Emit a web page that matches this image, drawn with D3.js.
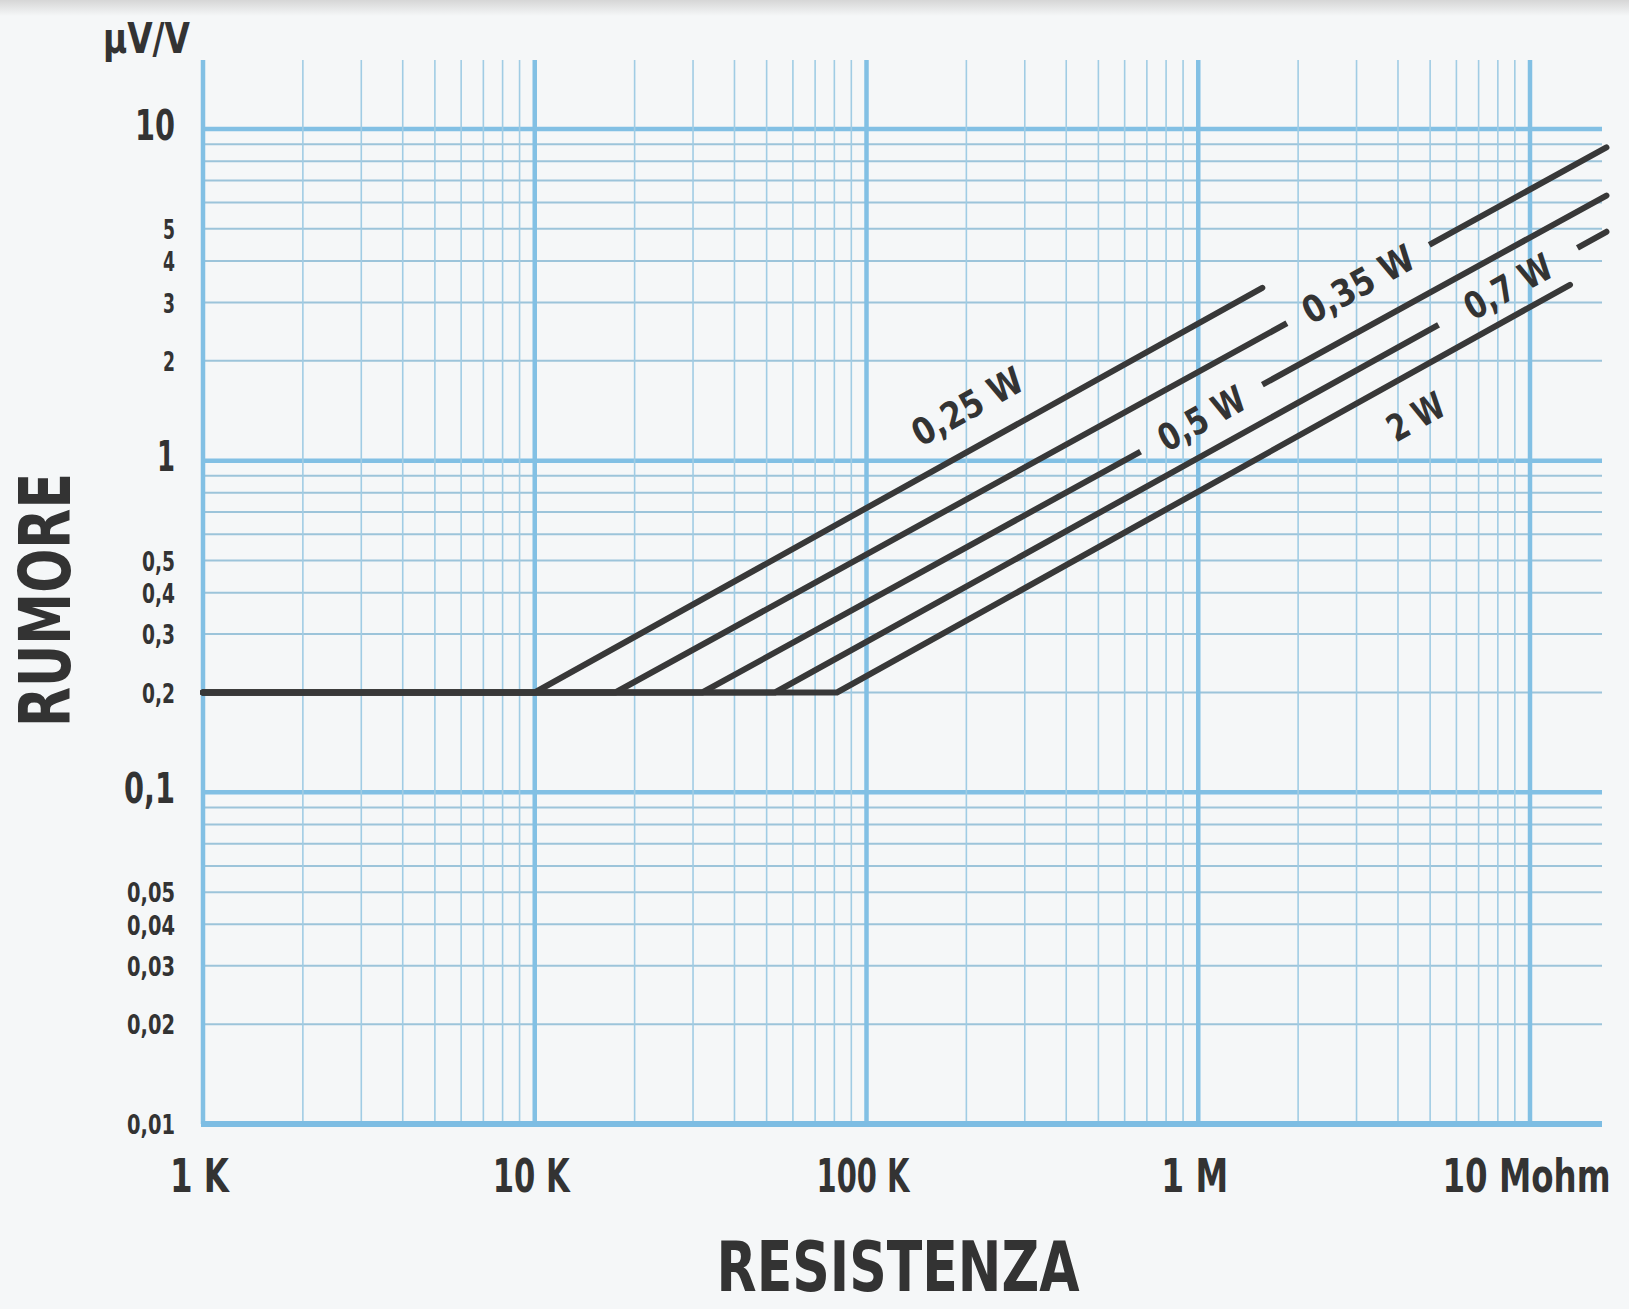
<!DOCTYPE html>
<html>
<head>
<meta charset="utf-8">
<script src="https://cdn.jsdelivr.net/npm/d3@7"></script>
<style>
  html, body { margin: 0; padding: 0; background: #f5f7f8; }
  svg { display: block; }
  text { font-family: "Liberation Sans Narrow", "DejaVu Sans Condensed", "DejaVu Sans", sans-serif; font-stretch: condensed; font-weight: bold; fill: #333; }
</style>
</head>
<body>
<svg id="chart" width="1629" height="1309"></svg>
<script>
// ---------- DATA ----------
const xTickValues = [1e3, 1e4, 1e5, 1e6, 1e7];
const xTickLabels = ["1 K", "10 K", "100 K", "1 M", "10 Mohm"];

const yMajorValues = [10, 1, 0.1];
const yMajorLabels = ["10", "1", "0,1"];
const yMinorValues = [5, 4, 3, 2, 0.5, 0.4, 0.3, 0.2, 0.05, 0.04, 0.03, 0.02, 0.01];
const yMinorLabels = ["5", "4", "3", "2", "0,5", "0,4", "0,3", "0,2", "0,05", "0,04", "0,03", "0,02", "0,01"];

const seriesNames = ["0,25 W", "0,35 W", "0,5 W", "0,7 W", "2 W"];
const flatStartR = 1000;           // ohm
const flatNoise = 0.2;             // µV/V
const kneeR = [10000, 17500, 32000, 53000, 81500];
const endR  = [1.56e6, 1.7e7, 1.7e7, 1.7e7, 1.32e7];
const endV  = [3.32, 8.8, 6.3, 4.9, 3.39];
// label gaps cut into the lines (resistance at gap start / end), null = label beside the line
const gapStartR = [null, 1.85e6, 6.7e5, 5.3e6, null];
const gapEndR   = [null, 4.97e6, 1.56e6, 1.39e7, null];
// labels placed beside the line (resistance of label centre, side: -1 above, +1 below)
const sideLabelR = [2.3e5, null, null, null, 3.95e6];
const sideLabelDir = [-1, 0, 0, 0, 1];

// ---------- LAYOUT ----------
const svg = d3.select("#chart");
const W = 1629, H = 1309;
const x = d3.scaleLog().domain([1e3, 1e7]).range([203, 1530]);
const y = d3.scaleLog().domain([0.01, 10]).range([1124, 129]);
const gridTop = 60, gridRight = 1602;

// text widths (px) used to imitate the condensed typeface of the original
const widthOf = {
  "1 K": 59, "10 K": 77, "100 K": 93, "1 M": 67, "10 Mohm": 168,
  "10": 40, "1": 18, "0,1": 51
};
const minorWidth = s => s.length === 1 ? 12 : (s.length === 3 ? 33 : 48);

// squeeze a text horizontally to a target width (keeps anchor point at local x=0)
function squeeze(sel, widthFn, pre) {
  sel.each(function (d, i) {
    const t = d3.select(this);
    const w = widthFn.call(this, d, i);
    const nat = this.getComputedTextLength();
    const s = nat > 0 ? w / nat : 1;
    t.attr("transform", (pre ? pre.call(this, d, i) + " " : "") + `scale(${s},1)`);
  });
}

// background + scan band at top
const defs = svg.append("defs");
const grad = defs.append("linearGradient").attr("id", "topband").attr("x1", 0).attr("y1", 0).attr("x2", 0).attr("y2", 1);
grad.append("stop").attr("offset", "0%").attr("stop-color", "#d6d6d6");
grad.append("stop").attr("offset", "100%").attr("stop-color", "#f5f7f8");
svg.append("rect").attr("width", W).attr("height", H).attr("fill", "#f5f7f8");
svg.append("rect").attr("width", W).attr("height", 16).attr("fill", "url(#topband)");

// ---------- GRID ----------
const vLines = [];
for (let k = 3; k <= 6; k++) for (let d = 1; d <= 9; d++) vLines.push({ v: d * Math.pow(10, k), major: d === 1 });
vLines.push({ v: 1e7, major: true });
const hLines = [];
for (let k = -2; k <= 0; k++) for (let d = 1; d <= 9; d++) hLines.push({ v: d * Math.pow(10, k), major: d === 1 });
hLines.push({ v: 10, major: true });

const grid = svg.append("g");
grid.selectAll("line.h").data(hLines).join("line")
  .attr("x1", x(1e3)).attr("x2", gridRight)
  .attr("y1", d => y(d.v)).attr("y2", d => y(d.v))
  .attr("stroke", d => d.major ? "#82c0e4" : "#9cc4da")
  .attr("stroke-width", d => d.major ? 4.5 : 2);
grid.selectAll("line.v").data(vLines).join("line")
  .attr("x1", d => x(d.v)).attr("x2", d => x(d.v))
  .attr("y1", gridTop).attr("y2", y(0.01))
  .attr("stroke", d => d.major ? "#82c0e4" : "#a0cce4")
  .attr("stroke-width", d => d.major ? 4.5 : 1.6);
grid.append("line").attr("x1", x(1e3) - 2).attr("x2", gridRight)
  .attr("y1", y(0.01)).attr("y2", y(0.01))
  .attr("stroke", "#7dbde3").attr("stroke-width", 6);

// ---------- AXIS LABELS ----------
const xAxis = d3.axisBottom(x).tickValues(xTickValues).tickFormat((d, i) => xTickLabels[i]).tickSize(0);
const gx = svg.append("g").attr("transform", "translate(-4, 1192)").call(xAxis);
gx.select(".domain").remove();
gx.selectAll("text").attr("font-size", 46).attr("y", 0).attr("dy", 0).attr("font-family", null);
squeeze(gx.selectAll("text"), d => widthOf[xTickLabels[xTickValues.indexOf(d)]]);

const yAxisMajor = d3.axisLeft(y).tickValues(yMajorValues).tickFormat((d, i) => yMajorLabels[i]).tickSize(0);
const gyM = svg.append("g").attr("transform", "translate(175, -5)").call(yAxisMajor);
gyM.select(".domain").remove();
gyM.selectAll("text").attr("font-size", 42).attr("x", 0).attr("dy", "0.36em").attr("font-family", null);
squeeze(gyM.selectAll("text"), d => widthOf[yMajorLabels[yMajorValues.indexOf(d)]]);

const yAxisMinor = d3.axisLeft(y).tickValues(yMinorValues).tickFormat((d, i) => yMinorLabels[i]).tickSize(0);
const gym = svg.append("g").attr("transform", "translate(175, 0)").call(yAxisMinor);
gym.select(".domain").remove();
gym.selectAll("text").attr("font-size", 27).attr("x", 0).attr("dy", "0.36em").attr("font-family", null);
squeeze(gym.selectAll("text"), d => minorWidth(yMinorLabels[yMinorValues.indexOf(d)]));

const unit = svg.append("text").attr("text-anchor", "end").attr("font-size", 43).text("µV/V");
squeeze(unit, () => 87, () => "translate(190,53)");

const yTitle = svg.append("text").attr("text-anchor", "middle").attr("font-size", 72).text("RUMORE");
squeeze(yTitle, () => 254, () => "translate(70,600) rotate(-90)");

const xTitle = svg.append("text").attr("text-anchor", "middle").attr("font-size", 70).text("RESISTENZA");
squeeze(xTitle, () => 363, () => "translate(898,1291)");

// ---------- CURVES ----------
const line = d3.line().x(d => x(d[0])).y(d => y(d[1]));
const series = seriesNames.map((name, i) => ({
  name, i,
  pts: [[flatStartR, flatNoise], [kneeR[i], flatNoise], [endR[i], endV[i]]]
}));

function onLine(i, r) {
  const x0 = x(kneeR[i]), y0 = y(flatNoise), x1 = x(endR[i]), y1 = y(endV[i]);
  const px = x(r);
  return [px, y0 + (y1 - y0) * (px - x0) / (x1 - x0)];
}
function angle(i) {
  const x0 = x(kneeR[i]), y0 = y(flatNoise), x1 = x(endR[i]), y1 = y(endV[i]);
  return Math.atan2(y1 - y0, x1 - x0) * 180 / Math.PI;
}

const mask = defs.append("mask").attr("id", "gaps").attr("maskUnits", "userSpaceOnUse")
  .attr("x", 0).attr("y", 0).attr("width", W).attr("height", H);
mask.append("rect").attr("width", W).attr("height", H).attr("fill", "#fff");
series.forEach(s => {
  if (gapStartR[s.i] == null) return;
  const a = onLine(s.i, gapStartR[s.i]), b = onLine(s.i, gapEndR[s.i]);
  const len = Math.hypot(b[0] - a[0], b[1] - a[1]);
  const cx = (a[0] + b[0]) / 2, cy = (a[1] + b[1]) / 2;
  mask.append("rect").attr("x", -len / 2).attr("y", -9).attr("width", len).attr("height", 18)
    .attr("transform", `translate(${cx},${cy}) rotate(${angle(s.i)})`).attr("fill", "#000");
});

const curves = svg.append("g").attr("mask", "url(#gaps)");
curves.selectAll("path").data(series).join("path")
  .attr("d", d => line(d.pts))
  .attr("fill", "none").attr("stroke", "#383838").attr("stroke-width", 6)
  .attr("stroke-linecap", "round").attr("stroke-linejoin", "miter");

// ---------- CURVE LABELS ----------
const labelLen = [121, 122, 94, 95, 60];
series.forEach(s => {
  let cx, cy;
  const ang = angle(s.i);
  if (gapStartR[s.i] != null) {
    const a = onLine(s.i, gapStartR[s.i]), b = onLine(s.i, gapEndR[s.i]);
    cx = (a[0] + b[0]) / 2; cy = (a[1] + b[1]) / 2;
  } else {
    const p = onLine(s.i, sideLabelR[s.i]);
    const off = 40 * sideLabelDir[s.i];
    const rad = ang * Math.PI / 180;
    cx = p[0] - Math.sin(rad) * off; cy = p[1] + Math.cos(rad) * off;
  }
  const t = svg.append("text")
    .attr("text-anchor", "middle").attr("dy", "0.36em")
    .attr("font-size", 37)
    .text(s.name);
  squeeze(t, () => labelLen[s.i], () => `translate(${cx},${cy}) rotate(${ang})`);
});
</script>
</body>
</html>
